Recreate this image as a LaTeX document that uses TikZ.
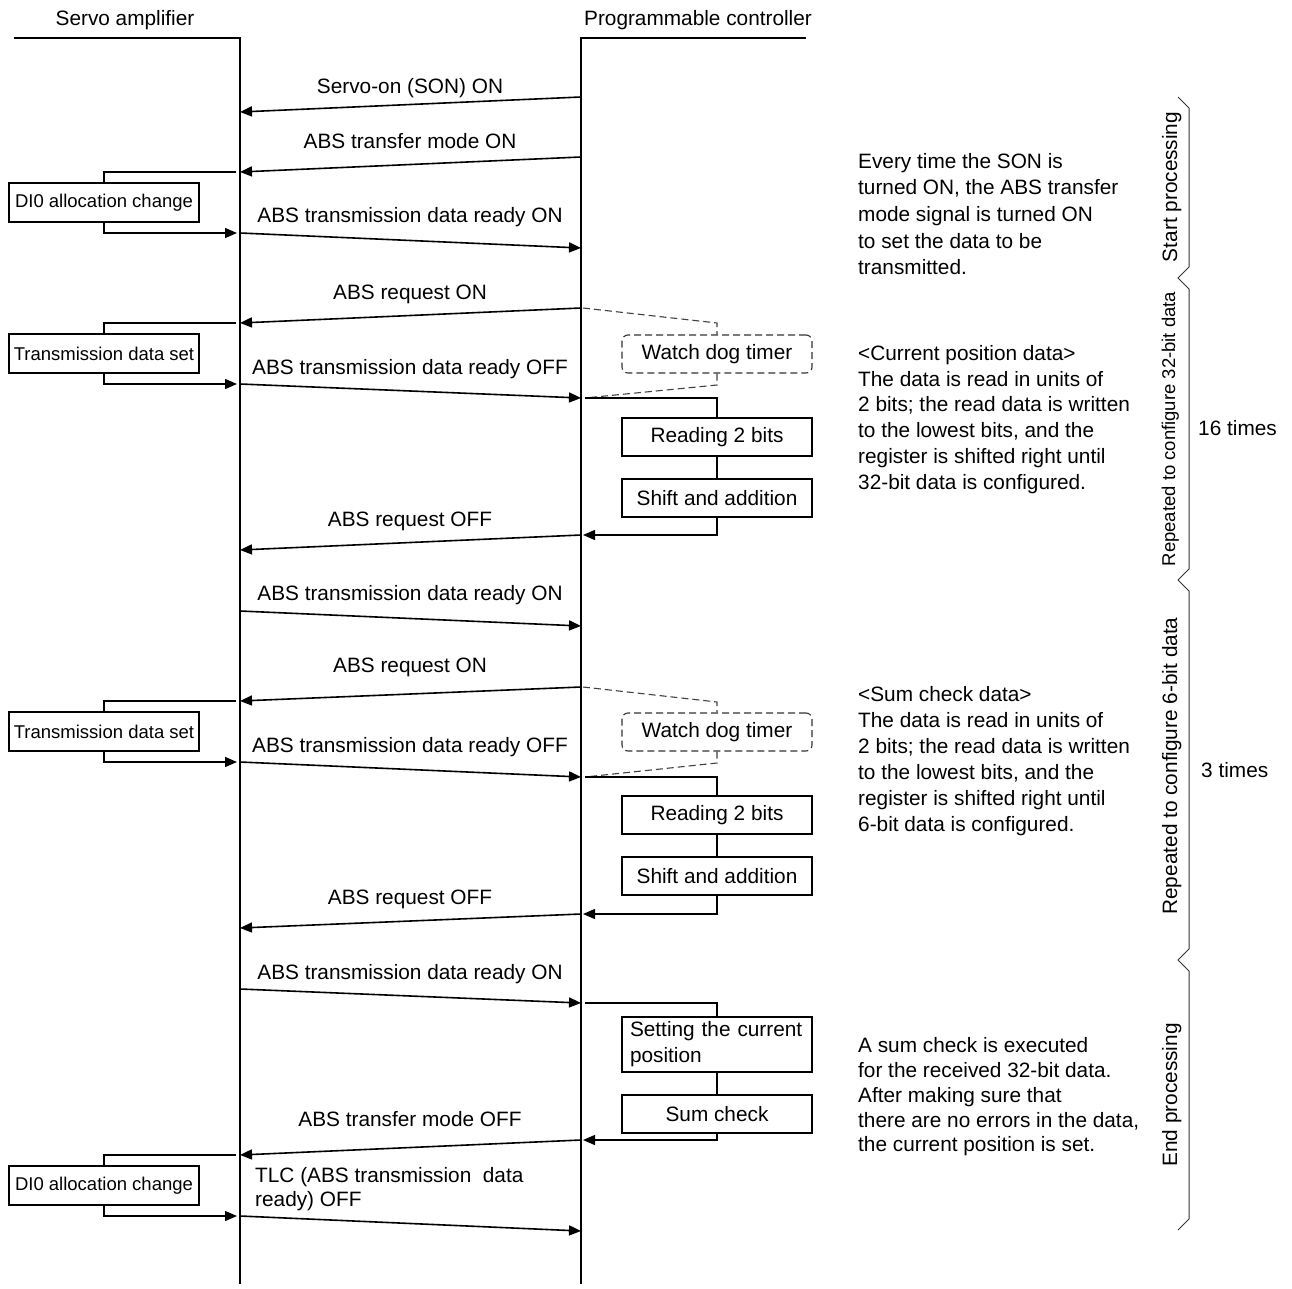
\documentclass[tikz,border=0pt]{standalone}
\usepackage{fontspec}
\setmainfont{Liberation Sans}
\usetikzlibrary{arrows.meta}
\newcommand\msz{\fontsize{20.8}{25.8}\selectfont}
\newcommand\ssz{\fontsize{18.5}{22}\selectfont}
\begin{document}
\begin{tikzpicture}[x=1pt,y=-1pt,
  lbl/.style={font=\msz, inner sep=0pt, anchor=base},
  txt/.style={font=\msz, inner sep=0pt, anchor=base west},
  lbox/.style={draw, line width=1.4pt, minimum width=190pt, minimum height=39pt, inner sep=0pt, font=\ssz},
  rbox/.style={draw, line width=1.4pt, minimum width=190pt, minimum height=38pt, inner sep=0pt, font=\msz},
  wdt/.style={draw=black!80, line width=1.1pt, dash pattern=on 7pt off 4pt, rounded corners=6pt, minimum width=190pt, minimum height=38pt, inner sep=0pt, font=\msz},
  life/.style={line width=1.6pt},
  msg/.style={line width=1.6pt, -{Triangle[length=12pt,width=10pt]}},
  conn/.style={line width=1.4pt},
  dsh/.style={draw=black!75, line width=1.1pt, dash pattern=on 7pt off 4pt},
  brc/.style={line width=1pt, draw=black!80},
  rlbl/.style={font=\msz, inner sep=0pt, anchor=base, rotate=90},
]
\useasboundingbox (0,0) rectangle (1292,1289);

% headers and lifelines
\node[lbl] (hsa) at (125,25.5) {Servo amplifier};
\node[lbl] (hpc) at (698,25.5) {Programmable controller};
\coordinate (sa0) at (14,38);
\coordinate (sa1) at (240,38);
\coordinate (sa2) at (240,1284);
\coordinate (pc0) at (806,38);
\coordinate (pc1) at (581,38);
\coordinate (pc2) at (581,1284);
\draw[life] (sa0) -- (sa1) -- (sa2);
\draw[life] (pc0) -- (pc1) -- (pc2);

% arrow end points
\coordinate (r1) at (581,97);   \coordinate (l1) at (240,112);
\coordinate (r2) at (581,157);  \coordinate (l2) at (240,172);
\coordinate (l3) at (240,233);  \coordinate (r3) at (581,248);
\coordinate (r4) at (581,308);  \coordinate (l4) at (240,323);
\coordinate (l5) at (240,384);  \coordinate (r5) at (581,398);
\coordinate (r6) at (581,535);  \coordinate (l6) at (240,550);
\coordinate (l7) at (240,611);  \coordinate (r7) at (581,626);
\coordinate (r8) at (581,687);  \coordinate (l8) at (240,701);
\coordinate (l9) at (240,762);  \coordinate (r9) at (581,777);
\coordinate (r10) at (581,914); \coordinate (l10) at (240,928);
\coordinate (l11) at (240,989); \coordinate (r11) at (581,1003);
\coordinate (r12) at (581,1140);\coordinate (l12) at (240,1155);
\coordinate (l13) at (240,1216);\coordinate (r13) at (581,1231);

\draw[msg] (r1) -- (l1);
\draw[msg] (r2) -- (l2);
\draw[msg] (l3) -- (r3);
\draw[msg] (r4) -- (l4);
\draw[msg] (l5) -- (r5);
\draw[msg] (r6) -- (l6);
\draw[msg] (l7) -- (r7);
\draw[msg] (r8) -- (l8);
\draw[msg] (l9) -- (r9);
\draw[msg] (r10) -- (l10);
\draw[msg] (l11) -- (r11);
\draw[msg] (r12) -- (l12);
\draw[msg] (l13) -- (r13);

% message labels
\node[lbl] (m1) at (410,93.5) {Servo-on (SON) ON};
\node[lbl] (m2) at (410,148.5) {ABS transfer mode ON};
\node[lbl] (m3) at (410,222.5) {ABS transmission data ready ON};
\node[lbl] (m4) at (410,299.5) {ABS request ON};
\node[lbl] (m5) at (410,374.5) {ABS transmission data ready OFF};
\node[lbl] (m6) at (410,526.5) {ABS request OFF};
\node[lbl] (m7) at (410,600.5) {ABS transmission data ready ON};
\node[lbl] (m8) at (410,672.5) {ABS request ON};
\node[lbl] (m9) at (410,752.5) {ABS transmission data ready OFF};
\node[lbl] (m10) at (410,904.5) {ABS request OFF};
\node[lbl] (m11) at (410,979.5) {ABS transmission data ready ON};
\node[lbl] (m12) at (410,1126.5) {ABS transfer mode OFF};
\node[txt] (m13a) at (255,1182.5) {TLC (ABS transmission\ \ data};
\node[txt] (m13b) at (255,1206.5) {ready) OFF};

% left boxes with brackets
\node[lbox] (d1) at (104,202.5) {DI0 allocation change};
\node[lbox] (t1) at (104,353.5) {Transmission data set};
\node[lbox] (t2) at (104,731.5) {Transmission data set};
\node[lbox] (d2) at (104,1185.5) {DI0 allocation change};
\coordinate (d1i) at (236,172);  \coordinate (d1o) at (237,233);
\coordinate (t1i) at (236,323);  \coordinate (t1o) at (237,384);
\coordinate (t2i) at (236,701);  \coordinate (t2o) at (237,762);
\coordinate (d2i) at (236,1155); \coordinate (d2o) at (237,1216);
\draw[conn] (d1i) -| (d1.north);
\draw[msg, line width=1.4pt] (d1.south) |- (d1o);
\draw[conn] (t1i) -| (t1.north);
\draw[msg, line width=1.4pt] (t1.south) |- (t1o);
\draw[conn] (t2i) -| (t2.north);
\draw[msg, line width=1.4pt] (t2.south) |- (t2o);
\draw[conn] (d2i) -| (d2.north);
\draw[msg, line width=1.4pt] (d2.south) |- (d2o);

% right boxes
\node[wdt] (w1) at (717,354) {Watch dog timer};
\node[rbox] (rd1) at (717,437) {Reading 2 bits};
\node[rbox] (sh1) at (717,498) {Shift and addition};
\node[wdt] (w2) at (717,732) {Watch dog timer};
\node[rbox] (rd2) at (717,815) {Reading 2 bits};
\node[rbox] (sh2) at (717,876) {Shift and addition};
\node[rbox, minimum height=55pt, text width=174pt, align=left, inner xsep=8pt] (st) at (717,1044.5) {Setting the current\\position};
\node[rbox] (sc) at (717,1114) {Sum check};

% dashed watchdog connectors
\coordinate (w1a) at (583,308); \coordinate (w1b) at (717,323);
\coordinate (w1c) at (717,385); \coordinate (w1d) at (585,398);
\coordinate (w2a) at (583,687); \coordinate (w2b) at (717,702);
\coordinate (w2c) at (717,763); \coordinate (w2d) at (585,777);
\draw[dsh] (w1a) -- (w1b) -- (w1.north);
\draw[dsh] (w1.south) -- (w1c) -- (w1d);
\draw[dsh] (w2a) -- (w2b) -- (w2.north);
\draw[dsh] (w2.south) -- (w2c) -- (w2d);

% solid processing brackets
\coordinate (p1i) at (585,398);  \coordinate (p1o) at (583,535);
\coordinate (p2i) at (585,777);  \coordinate (p2o) at (583,914);
\coordinate (p3i) at (585,1003); \coordinate (p3o) at (583,1140);
\draw[conn] (p1i) -| (rd1.north);
\draw[conn] (rd1.south) -- (sh1.north);
\draw[msg, line width=1.4pt] (sh1.south) |- (p1o);
\draw[conn] (p2i) -| (rd2.north);
\draw[conn] (rd2.south) -- (sh2.north);
\draw[msg, line width=1.4pt] (sh2.south) |- (p2o);
\draw[conn] (p3i) -| (st.north);
\draw[conn] (st.south) -- (sc.north);
\draw[msg, line width=1.4pt] (sc.south) |- (p3o);

% explanatory texts
\node[txt] (a1) at (858,168.5) {Every time the SON is};
\node[txt] (a2) at (858,195) {turned ON, the ABS transfer};
\node[txt] (a3) at (858,221.5) {mode signal is turned ON};
\node[txt] (a4) at (858,248) {to set the data to be};
\node[txt] (a5) at (858,274.5) {transmitted.};

\node[txt] (b1) at (858,360.5) {<Current position data>};
\node[txt] (b2) at (858,386) {The data is read in units of};
\node[txt] (b3) at (858,411.5) {2 bits; the read data is written};
\node[txt] (b4) at (858,437.5) {to the lowest bits, and the};
\node[txt] (b5) at (858,463.5) {register is shifted right until};
\node[txt] (b6) at (858,489.5) {32-bit data is configured.};

\node[txt] (c1) at (858,701.5) {<Sum check data>};
\node[txt] (c2) at (858,727.5) {The data is read in units of};
\node[txt] (c3) at (858,753.5) {2 bits; the read data is written};
\node[txt] (c4) at (858,779.5) {to the lowest bits, and the};
\node[txt] (c5) at (858,805) {register is shifted right until};
\node[txt] (c6) at (858,831) {6-bit data is configured.};

\node[txt] (e1) at (858,1052.5) {A sum check is executed};
\node[txt] (e2) at (858,1077.5) {for the received 32-bit data.};
\node[txt] (e3) at (858,1102.5) {After making sure that};
\node[txt] (e4) at (858,1127.5) {there are no errors in the data,};
\node[txt] (e5) at (858,1151.5) {the current position is set.};

% phase brace
\coordinate (b0) at (1178,97);   \coordinate (b1p) at (1189,108);
\coordinate (b2p) at (1189,267); \coordinate (b3p) at (1178,278); \coordinate (b4p) at (1189,289);
\coordinate (b5p) at (1189,569); \coordinate (b6p) at (1178,580); \coordinate (b7p) at (1189,591);
\coordinate (b8p) at (1189,949); \coordinate (b9p) at (1178,960); \coordinate (b10p) at (1189,971);
\coordinate (b11p) at (1189,1219); \coordinate (b12p) at (1178,1230);
\draw[brc] (b0) -- (b1p) -- (b2p) -- (b3p) -- (b4p) -- (b5p) -- (b6p) -- (b7p) -- (b8p) -- (b9p) -- (b10p) -- (b11p) -- (b12p);

\node[rlbl] (ph1) at (1177,187) {Start processing};
\node[rlbl, font=\ssz] (ph2) at (1175,429) {Repeated to configure 32-bit data};
\node[rlbl] (ph3) at (1177,766) {Repeated to configure 6-bit data};
\node[rlbl] (ph4) at (1177,1095) {End processing};
\node[txt] (n16) at (1198,435.5) {16 times};
\node[txt] (n3) at (1201,777.5) {3 times};
\end{tikzpicture}
\end{document}
